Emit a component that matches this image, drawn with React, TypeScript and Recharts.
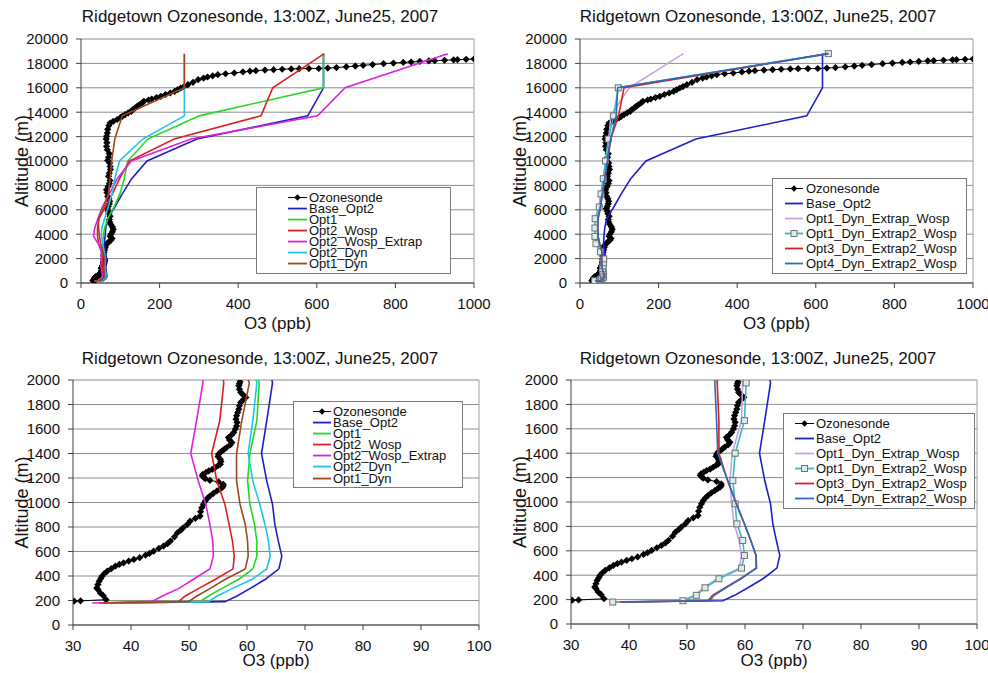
import React from 'react';
import { ScatterChart, Scatter, XAxis, YAxis, CartesianGrid, Legend, ReferenceLine } from 'recharts';

const FONT = 'Arial, "Liberation Sans", Helvetica, sans-serif';
const TITLE = 'Ridgetown Ozonesonde, 13:00Z, June25, 2007';

// model level altitudes (m)
const LEVELS = [180, 191, 235, 297, 371, 458, 562, 685, 821, 985, 1176, 1400, 1667, 1976,
  2550, 3220, 3820, 4510, 5270, 6230, 7300, 8550, 10000, 11800, 13700, 16000, 18800];

// O3 (ppb) per model level
const BASE_OPT2 = [37.5, 56.2, 58.2, 60.5, 63.1, 65.5, 66.0, 65.4, 64.8, 64.4, 63.4, 62.5, 63.4, 64.4,
  62, 60, 61, 63, 68, 86, 105, 129, 168, 295, 577, 617, 617];
const OPT1 = [35.5, 51.9, 53.3, 55.6, 58.5, 61.0, 61.7, 61.7, 61.3, 60.5, 60.1, 60.5, 61.7, 62.1,
  58, 55, 57, 60, 68, 84, 99, 110, 119, 170, 301, 617, 617];
const OPT2_WOSP = [34.5, 48.2, 49.3, 51.6, 54.5, 57.6, 57.8, 57.5, 56.9, 56.2, 54.8, 53.9, 55.3, 56.0,
  54, 45, 42, 42, 46, 62, 80, 98, 123, 237, 458, 488, 619];
const OPT2_WOSP_EXTRAP = [33.3, 43.6, 45.3, 48.2, 50.7, 53.6, 54.2, 54.1, 53.6, 52.9, 51.6, 50.3, 51.3, 52.4,
  52, 44, 32, 35, 43, 54, 72, 92, 128, 280, 602, 672, 933];
const OPT2_DYN = [36.0, 53.3, 54.8, 57.4, 60.8, 63.4, 64.0, 63.7, 63.1, 62.2, 61.0, 60.2, 61.0, 61.7,
  59, 55, 52, 53, 60, 69, 79, 86, 98, 157, 263, 263, 263];
const OPT1_DYN = [35.0, 49.9, 51.3, 53.6, 56.2, 59.7, 60.2, 60.1, 59.7, 58.8, 58.2, 58.2, 59.1, 60.4,
  56, 50, 47, 45, 44, 58, 70, 74, 78, 86, 105, 263, 263];
const OPT1_DYN_EXTRAP_WOSP = [37.2, 49.2, 51.3, 52.8, 55.2, 59.0, 59.4, 59.0, 58.1, 57.7, 57.4, 57.8, 59.4, 59.6,
  54, 42, 39, 39, 40, 48, 53, 59, 66, 74, 78, 125, 263];
const OPT1_DYN_EXTRAP2_WOSP = [37.2, 49.3, 51.6, 53.1, 55.5, 59.4, 59.9, 59.6, 58.6, 58.3, 57.9, 58.3, 59.9, 60.2,
  52, 40.7, 38, 38, 38.5, 49, 53.4, 59.3, 65, 72, 85.5, 97.5, 632];
const OPT3_DYN_EXTRAP2_WOSP = [38.5, 53.6, 54.4, 56.6, 59.2, 62.0, 61.9, 61.0, 59.9, 58.5, 57.0, 55.5, 55.5, 55.2,
  56, 50, 46, 45, 46, 52, 57, 63, 70, 78, 98, 112, 632];
const OPT4_DYN_EXTRAP2_WOSP = [39.0, 53.9, 54.7, 56.7, 59.3, 61.9, 61.9, 61.0, 59.9, 58.5, 57.0, 55.3, 55.1, 54.8,
  56, 50, 46, 45, 46, 52, 57, 63, 70, 78, 92, 96, 632];

// ozonesonde profile: [altitude m, O3 ppb]
const SONDE = [
  [195, 30.2], [197, 31.3], [207, 35.7], [240, 35.2], [262, 34.7], [290, 34.3], [303, 34.1], [330, 34.3],
  [357, 34.5], [380, 34.8], [398, 35.0], [420, 35.4], [439, 35.9], [460, 36.6], [480, 37.3], [495, 38.0],
  [507, 38.7], [522, 39.6], [535, 40.5], [550, 41.5], [570, 42.5], [585, 43.2], [603, 43.9], [625, 44.8],
  [644, 45.6], [665, 46.3], [685, 46.8], [720, 47.5], [753, 48.0], [775, 48.6], [794, 49.0], [820, 49.7],
  [848, 50.2], [870, 51.1], [889, 51.9], [925, 52.0], [957, 52.2], [985, 52.5], [1012, 52.8], [1035, 53.2],
  [1053, 53.6], [1075, 54.2], [1094, 54.8], [1110, 55.3], [1121, 55.7], [1135, 55.9], [1148, 55.9], [1168, 55.1],
  [1181, 53.6], [1195, 52.8], [1203, 52.6], [1218, 52.3], [1230, 52.4], [1245, 52.9], [1258, 53.4], [1270, 54.0],
  [1285, 54.5], [1300, 55.0], [1312, 55.4], [1335, 55.5], [1353, 55.4], [1375, 55.0], [1394, 55.1], [1410, 55.4],
  [1421, 55.7], [1435, 56.1], [1449, 56.5], [1470, 57.1], [1490, 57.4], [1510, 57.0], [1530, 56.8], [1550, 57.3],
  [1571, 57.7], [1599, 58.0], [1625, 58.2], [1653, 58.3], [1680, 58.1], [1708, 58.2], [1735, 58.4], [1762, 58.6],
  [1790, 58.7], [1817, 58.9], [1840, 59.4], [1858, 59.8], [1880, 59.3], [1899, 58.9], [1925, 58.7], [1953, 58.6],
  [1970, 58.7], [1986, 58.8], [2150, 58.0], [2300, 57.5], [2500, 58.5], [2700, 60.0], [2900, 61.5], [3050, 62.0],
  [3200, 66.0], [3350, 70.0], [3500, 76.0], [3650, 79.0], [3825, 74.0], [4000, 76.0], [4200, 80.0], [4400, 82.0],
  [4600, 80.0], [4800, 76.0], [5000, 73.0], [5200, 72.0], [5464, 74.0], [5700, 71.0], [5900, 69.0], [6100, 67.0],
  [6284, 69.5], [6500, 72.0], [6700, 73.0], [6900, 71.0], [7100, 68.0], [7400, 66.0], [7650, 65.0], [7900, 69.0],
  [8150, 72.0], [8400, 74.0], [8743, 70.0], [9000, 72.0], [9300, 75.0], [9550, 74.0], [9836, 73.0], [10050, 68.0],
  [10300, 70.0], [10600, 72.0], [10930, 67.0], [11200, 65.0], [11500, 66.0], [11800, 64.0], [12019, 65.0], [12300, 67.0],
  [12600, 68.0], [12900, 71.0], [13115, 74.0], [13250, 82.0], [13400, 92.0], [13550, 100.0], [13661, 105.0], [13800, 112.0],
  [13950, 120.0], [14071, 128.0], [14200, 131.0], [14350, 138.0], [14480, 143.0], [14600, 148.0], [14750, 155.0], [14890, 160.0],
  [15000, 172.0], [15082, 180.0], [15200, 192.0], [15300, 203.0], [15450, 215.0], [15574, 227.0], [15700, 238.0], [15850, 246.0],
  [15984, 254.0], [16100, 262.0], [16257, 272.0], [16450, 285.0], [16667, 298.0], [16800, 312.0], [16885, 322.0], [16980, 335.0],
  [17077, 348.0], [17150, 368.0], [17213, 390.0], [17300, 412.0], [17360, 430.0], [17404, 445.0], [17450, 468.0], [17486, 490.0],
  [17520, 512.0], [17550, 535.0], [17568, 555.0], [17575, 580.0], [17580, 605.0], [17620, 628.0], [17660, 650.0], [17720, 675.0],
  [17780, 698.0], [17842, 718.0], [17900, 742.0], [17978, 770.0], [18030, 795.0], [18080, 820.0], [18115, 840.0], [18160, 862.0],
  [18200, 885.0], [18224, 900.0], [18260, 925.0], [18290, 948.0], [18306, 958.0], [18330, 980.0], [18361, 1000.0], [18400, 1030.0],
];

const TOP_X_TICKS = [0, 200, 400, 600, 800, 1000];
const TOP_Y_TICKS = [0, 2000, 4000, 6000, 8000, 10000, 12000, 14000, 16000, 18000, 20000];
const LOW_X_TICKS = [30, 40, 50, 60, 70, 80, 90, 100];
const LOW_Y_TICKS = [0, 200, 400, 600, 800, 1000, 1200, 1400, 1600, 1800, 2000];

const toPoints = (vals: number[]) => LEVELS.map((y, i) => ({ x: vals[i], y }));

type Marker = 'none' | 'diamond' | 'square';
interface SeriesDef { name: string; color: string; marker: Marker; points: { x: number; y: number }[] }

const sonde: SeriesDef = { name: 'Ozonesonde', color: '#000', marker: 'diamond', points: SONDE.map(([y, x]) => ({ x, y })) };
const base: SeriesDef = { name: 'Base_Opt2', color: '#1f1fc8', marker: 'none', points: toPoints(BASE_OPT2) };

const SET_A: SeriesDef[] = [
  sonde,
  base,
  { name: 'Opt1', color: '#22d822', marker: 'none', points: toPoints(OPT1) },
  { name: 'Opt2_Wosp', color: '#d82020', marker: 'none', points: toPoints(OPT2_WOSP) },
  { name: 'Opt2_Wosp_Extrap', color: '#e020e0', marker: 'none', points: toPoints(OPT2_WOSP_EXTRAP) },
  { name: 'Opt2_Dyn', color: '#1ec4e8', marker: 'none', points: toPoints(OPT2_DYN) },
  { name: 'Opt1_Dyn', color: '#a0461e', marker: 'none', points: toPoints(OPT1_DYN) },
];

const SET_B: SeriesDef[] = [
  sonde,
  base,
  { name: 'Opt1_Dyn_Extrap_Wosp', color: '#c8a2e6', marker: 'none', points: toPoints(OPT1_DYN_EXTRAP_WOSP) },
  { name: 'Opt1_Dyn_Extrap2_Wosp', color: '#38bcbc', marker: 'square', points: toPoints(OPT1_DYN_EXTRAP2_WOSP) },
  { name: 'Opt3_Dyn_Extrap2_Wosp', color: '#d82020', marker: 'none', points: toPoints(OPT3_DYN_EXTRAP2_WOSP) },
  { name: 'Opt4_Dyn_Extrap2_Wosp', color: '#2a6cbc', marker: 'none', points: toPoints(OPT4_DYN_EXTRAP2_WOSP) },
];

// note: recharts hands every shape a `size` prop, so the half-diagonal is named `half`
const Diamond = ({ cx, cy, half = 3.6 }: any) => (
  <polygon points={`${cx},${cy - half} ${cx + half},${cy} ${cx},${cy + half} ${cx - half},${cy}`} fill="#000" />
);
const Square = ({ cx, cy }: any) => (
  <rect x={cx - 3} y={cy - 3} width={6} height={6} fill="#dcecec" stroke="#707070" strokeWidth={1} />
);
const NoDot = () => <g />;

const shapeFor = (m: Marker) =>
  m === 'diamond' ? (p: any) => <Diamond cx={p.cx} cy={p.cy} /> : m === 'square' ? (p: any) => <Square cx={p.cx} cy={p.cy} /> : NoDot;

interface LegendCfg { left: number; top: number; width: number; rowH: number; padTop: number; padBottom: number; line0: number; line1: number; text: number }

interface PanelCfg {
  x: number; y: number; w: number; h: number;
  plot: { left: number; top: number; right: number; bottom: number };
  xDomain: [number, number]; xTicks: number[];
  yDomain: [number, number]; yTicks: number[];
  series: SeriesDef[];
  legend: LegendCfg;
  titleX: number; titleY: number; yLabelX: number;
}

const LegendBox = ({ cfg, series }: { cfg: LegendCfg; series: SeriesDef[] }) => (
  <div style={{
    width: cfg.width, boxSizing: 'border-box', border: '1px solid #7a7a7a', background: '#fff',
    paddingTop: cfg.padTop, paddingBottom: cfg.padBottom, fontFamily: FONT, fontSize: 13, color: '#111',
  }}>
    {series.map((s) => {
      const lw = cfg.line1 - cfg.line0;
      return (
        <div key={s.name} style={{ position: 'relative', height: cfg.rowH }}>
          <svg style={{ position: 'absolute', left: cfg.line0, top: 0, overflow: 'visible' }} width={lw} height={cfg.rowH}>
            <line x1={0} x2={lw} y1={cfg.rowH / 2} y2={cfg.rowH / 2} stroke={s.color} strokeWidth={s.marker === 'diamond' ? 1 : 1.8} />
            {s.marker === 'diamond' && <Diamond cx={lw / 2} cy={cfg.rowH / 2} half={3.2} />}
            {s.marker === 'square' && <Square cx={lw / 2} cy={cfg.rowH / 2} />}
          </svg>
          <span style={{ position: 'absolute', left: cfg.text, top: 0, lineHeight: `${cfg.rowH}px`, whiteSpace: 'nowrap' }}>{s.name}</span>
        </div>
      );
    })}
  </div>
);

const Panel = ({ cfg }: { cfg: PanelCfg }) => {
  const { plot } = cfg;
  const tick = { fill: '#111', fontSize: 15 };
  return (
    <div style={{ position: 'absolute', left: cfg.x, top: cfg.y, width: cfg.w, height: cfg.h }}>
      <ScatterChart
        width={cfg.w}
        height={cfg.h}
        margin={{ top: plot.top, right: cfg.w - plot.right, left: 0, bottom: 0 }}
      >
        <CartesianGrid vertical={false} stroke="#8c8c8c" strokeWidth={1} />
        <XAxis
          type="number" dataKey="x" domain={cfg.xDomain} ticks={cfg.xTicks} allowDataOverflow
          height={cfg.h - plot.bottom} tickSize={5} tickMargin={10} tick={tick}
          axisLine={{ stroke: '#404040' }} tickLine={{ stroke: '#404040' }} interval={0}
          label={{ value: 'O3 (ppb)', position: 'insideBottom', offset: 7, fill: '#111', fontSize: 17 }}
        />
        <YAxis
          type="number" dataKey="y" domain={cfg.yDomain} ticks={cfg.yTicks} allowDataOverflow
          width={plot.left} tickSize={5} tickMargin={8} tick={tick} interval={0}
          axisLine={{ stroke: '#404040' }} tickLine={{ stroke: '#404040' }}
          label={{
            content: (p: any) => {
              const vb = p.viewBox || { y: plot.top, height: plot.bottom - plot.top };
              const cy = vb.y + vb.height / 2;
              return (
                <text x={cfg.yLabelX} y={cy} transform={`rotate(-90 ${cfg.yLabelX} ${cy})`} textAnchor="middle"
                  dominantBaseline="central" fontSize={18} fill="#111">Altitude (m)</text>
              );
            },
          }}
        />
        <ReferenceLine x={cfg.xDomain[1]} stroke="#a0a0a0" strokeWidth={1} />
        {cfg.series.map((s) => (
          <Scatter
            key={s.name}
            name={s.name}
            data={s.points}
            fill={s.color}
            line={{ stroke: s.color, strokeWidth: s.marker === 'diamond' ? 1 : 1.6, fill: 'none' }}
            lineType="joint"
            shape={shapeFor(s.marker)}
            isAnimationActive={false}
          />
        ))}
        <Legend
          layout="horizontal"
          verticalAlign="middle"
          align="center"
          wrapperStyle={{ left: cfg.legend.left, top: cfg.legend.top, width: cfg.legend.width }}
          content={() => <LegendBox cfg={cfg.legend} series={cfg.series} />}
        />
      </ScatterChart>
      <div style={{
        position: 'absolute', left: cfg.titleX - 250, top: cfg.titleY - 11, width: 500, textAlign: 'center',
        fontSize: 17, lineHeight: '22px', color: '#111', whiteSpace: 'nowrap',
      }}>{TITLE}</div>
    </div>
  );
};

const PANELS: PanelCfg[] = [
  {
    x: 0, y: 0, w: 494, h: 336,
    plot: { left: 81, top: 39, right: 474, bottom: 283 },
    xDomain: [0, 1000], xTicks: TOP_X_TICKS, yDomain: [0, 20000], yTicks: TOP_Y_TICKS,
    series: SET_A,
    legend: { left: 256, top: 187, width: 195, rowH: 11.1, padTop: 3.5, padBottom: 3.5, line0: 31, line1: 50, text: 52 },
    titleX: 260, titleY: 17, yLabelX: 22,
  },
  {
    x: 494, y: 0, w: 494, h: 336,
    plot: { left: 86, top: 39, right: 479, bottom: 283 },
    xDomain: [0, 1000], xTicks: TOP_X_TICKS, yDomain: [0, 20000], yTicks: TOP_Y_TICKS,
    series: SET_B,
    legend: { left: 278, top: 178, width: 195, rowH: 15, padTop: 2, padBottom: 2, line0: 12, line1: 30, text: 33 },
    titleX: 264, titleY: 17, yLabelX: 26,
  },
  {
    x: 0, y: 336, w: 494, h: 337,
    plot: { left: 73, top: 44, right: 479, bottom: 289 },
    xDomain: [30, 100], xTicks: LOW_X_TICKS, yDomain: [0, 2000], yTicks: LOW_Y_TICKS,
    series: SET_A,
    legend: { left: 293, top: 65, width: 170, rowH: 11.1, padTop: 4, padBottom: 3.5, line0: 19, line1: 37, text: 39 },
    titleX: 260, titleY: 23, yLabelX: 22,
  },
  {
    x: 494, y: 336, w: 494, h: 337,
    plot: { left: 77, top: 44, right: 483, bottom: 288 },
    xDomain: [30, 100], xTicks: LOW_X_TICKS, yDomain: [0, 2000], yTicks: LOW_Y_TICKS,
    series: SET_B,
    legend: { left: 289, top: 77, width: 192, rowH: 15, padTop: 2, padBottom: 2, line0: 11, line1: 30, text: 32 },
    titleX: 264, titleY: 23, yLabelX: 26,
  },
];

export default function App() {
  return (
    <div style={{ position: 'absolute', left: 0, top: 0, width: 988, height: 673, background: '#fff', fontFamily: FONT, overflow: 'hidden' }}>
      {PANELS.map((p, i) => <Panel key={i} cfg={p} />)}
    </div>
  );
}
